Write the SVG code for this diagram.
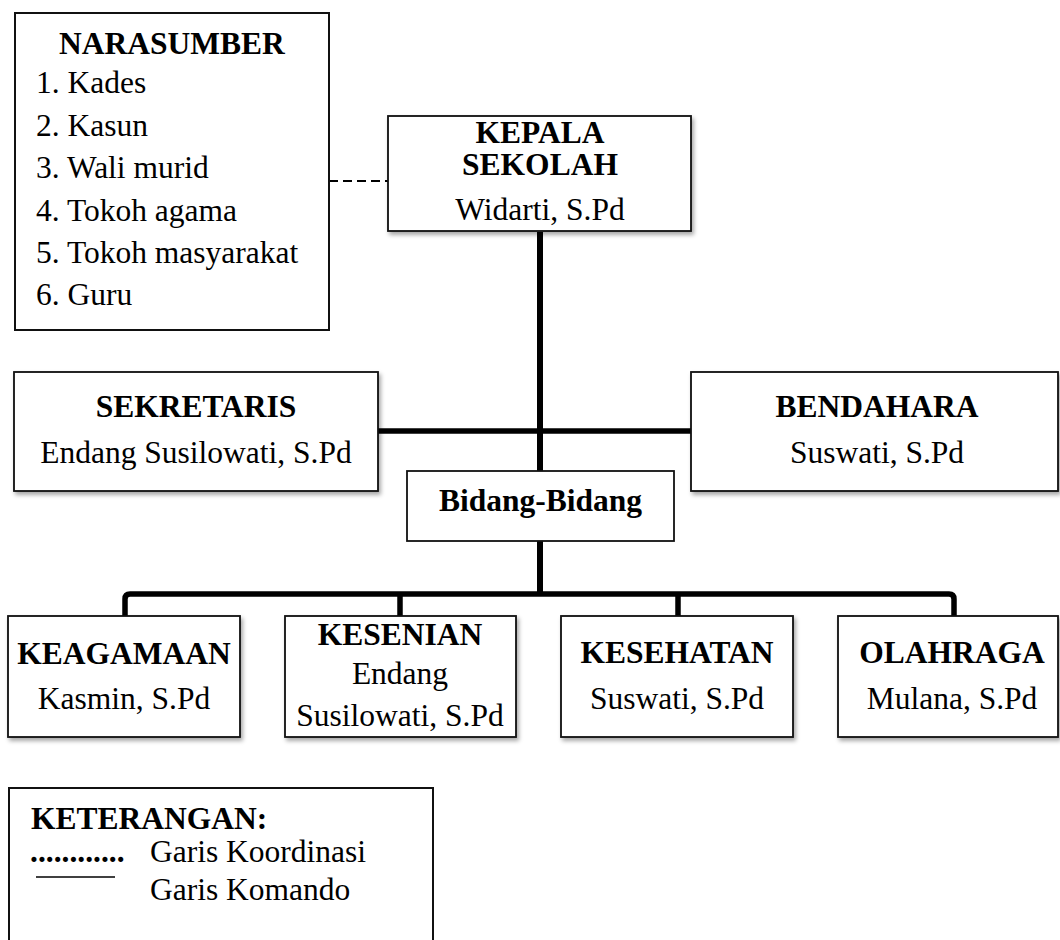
<svg xmlns="http://www.w3.org/2000/svg" width="1060" height="940" viewBox="0 0 1060 940">
<style>
text{font-family:"Liberation Serif","Times New Roman",serif;font-size:31.5px;fill:#000}
.b{font-weight:bold}
.c{text-anchor:middle}
.box{fill:#fff;stroke:#111;stroke-width:1.8}
.sh{filter:url(#ds)}
.cmd{fill:none;stroke:#000;stroke-width:6;stroke-linejoin:round}
.coord{fill:none;stroke:#000;stroke-width:1.8;stroke-dasharray:9 5}
</style>
<defs>
<filter id="ds" x="-10%" y="-10%" width="120%" height="130%">
<feDropShadow dx="2" dy="3" stdDeviation="2" flood-color="#000" flood-opacity="0.35"/>
</filter>
</defs>
<rect width="1060" height="940" fill="#fff"/>
<g id="connectors">
<path class="coord" d="M329,181 H388"/>
<path class="cmd" d="M540,232 V471"/>
<path class="cmd" d="M378,431 H691" style="stroke-width:5.5"/>
<path class="cmd" d="M540,541 V594"/>
<path class="cmd" d="M125,616 V599 Q125,594 130,594 H949 Q954,594 954,599 V616" style="stroke-width:5.5"/>
<path class="cmd" d="M400,594 V616 M678,594 V616" style="stroke-width:5.5"/>
</g>
<g id="narasumber">
<rect class="box" x="15" y="13" width="314" height="317" style="stroke-width:2"/>
<text class="b c" x="172" y="54">NARASUMBER</text>
<text x="36" y="93">1. Kades</text>
<text x="36" y="135.5">2. Kasun</text>
<text x="36" y="178">3. Wali murid</text>
<text x="36" y="220.5">4. Tokoh agama</text>
<text x="36" y="263">5. Tokoh masyarakat</text>
<text x="36" y="305">6. Guru</text>
</g>
<g id="kepala">
<rect class="box sh" x="388" y="116" width="303" height="115"/>
<text class="b c" x="540" y="143">KEPALA</text>
<text class="b c" x="540" y="175">SEKOLAH</text>
<text class="c" x="540" y="220">Widarti, S.Pd</text>
</g>
<g id="sekretaris">
<rect class="box sh" x="14" y="372" width="364" height="119"/>
<text class="b c" x="196" y="417">SEKRETARIS</text>
<text class="c" x="196" y="463">Endang Susilowati, S.Pd</text>
</g>
<g id="bendahara">
<rect class="box sh" x="691" y="372" width="367" height="119"/>
<text class="b c" x="877" y="417">BENDAHARA</text>
<text class="c" x="877" y="463">Suswati, S.Pd</text>
</g>
<g id="bidang">
<rect class="box" x="407" y="471" width="267" height="70"/>
<text class="b c" x="540.5" y="511">Bidang-Bidang</text>
</g>
<g id="keagamaan">
<rect class="box sh" x="8" y="616" width="232" height="121"/>
<text class="b c" x="124" y="664">KEAGAMAAN</text>
<text class="c" x="124" y="709">Kasmin, S.Pd</text>
</g>
<g id="kesenian">
<rect class="box sh" x="285" y="616" width="231" height="121"/>
<text class="b c" x="400" y="645">KESENIAN</text>
<text class="c" x="400" y="684">Endang</text>
<text class="c" x="400" y="726">Susilowati, S.Pd</text>
</g>
<g id="kesehatan">
<rect class="box sh" x="561" y="616" width="232" height="121"/>
<text class="b c" x="677" y="663">KESEHATAN</text>
<text class="c" x="677" y="709">Suswati, S.Pd</text>
</g>
<g id="olahraga">
<rect class="box sh" x="838" y="616" width="220" height="121"/>
<text class="b c" x="952" y="663">OLAHRAGA</text>
<text class="c" x="952" y="709">Mulana, S.Pd</text>
</g>
<g id="keterangan">
<rect class="box" x="9" y="788" width="424" height="170" style="stroke-width:2"/>
<text class="b" x="31" y="829">KETERANGAN:</text>
<text class="b" x="30" y="862" style="letter-spacing:0px">............</text>
<text x="150" y="862">Garis Koordinasi</text>
<line x1="36" y1="877" x2="115" y2="877" stroke="#000" stroke-width="1.5"/>
<text x="150" y="900">Garis Komando</text>
</g>
</svg>
